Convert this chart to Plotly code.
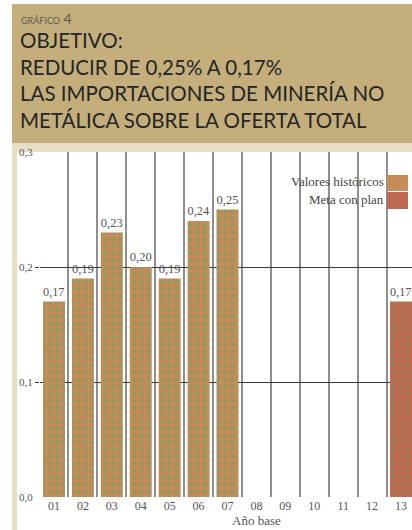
import plotly.graph_objects as go

# ---- data ----
categories = ["01", "02", "03", "04", "05", "06", "07", "08", "09", "10", "11", "12", "13"]
hist_x = ["01", "02", "03", "04", "05", "06", "07"]
hist_y = [0.17, 0.19, 0.23, 0.20, 0.19, 0.24, 0.25]
meta_x = ["13"]
meta_y = [0.17]
grid_ticks = [0.1, 0.2]
edge_ticks = [0.0, 0.3]
series_names = ["Valores históricos", "Meta con plan"]

W, H = 412, 530
L, R, T, B = 40, 0, 152, 33
PW, PH = W - L - R, H - T - B


def px(x):
    return (x - L) / PW


def py(y):
    return (H - B - y) / PH


SERIF = "Liberation Serif"
TXT = "#555555"
HIST_C = "#c58b58"
META_C = "#bf6a4e"
DOT_C = "#8c9a5c"

fig = go.Figure()
fig.add_trace(go.Bar(
    x=hist_x, y=hist_y, name=series_names[0], width=0.76,
    marker=dict(color=HIST_C, line=dict(width=0),
                pattern=dict(shape=".", fgcolor=DOT_C, bgcolor=HIST_C, size=7,
                             solidity=0.3, fillmode="replace")),
    text=hist_y, texttemplate="%{y:.2f}", textposition="outside",
    textfont=dict(family=SERIF, size=13, color=TXT), cliponaxis=False,
    showlegend=False,
))
fig.add_trace(go.Bar(
    x=meta_x, y=meta_y, name=series_names[1], width=0.76,
    marker=dict(color=META_C, line=dict(width=0),
                pattern=dict(shape=".", fgcolor="#a07a58", bgcolor=META_C, size=7,
                             solidity=0.3, fillmode="replace")),
    text=meta_y, texttemplate="%{y:.2f}", textposition="outside",
    textfont=dict(family=SERIF, size=13, color=TXT), cliponaxis=False,
    showlegend=False,
))

shapes = [
    dict(type="rect", xref="paper", yref="paper", x0=px(12), x1=px(412), y0=py(143), y1=py(4),
         fillcolor="#c4af7c", line=dict(width=0), layer="below"),
    dict(type="rect", xref="paper", yref="paper", x0=px(12), x1=px(412), y0=py(152), y1=py(143),
         fillcolor="#e7dec6", line=dict(width=0), layer="below"),
    dict(type="rect", xref="paper", yref="paper", x0=px(12), x1=px(17), y0=py(530), y1=py(143),
         fillcolor="#e7dec6", line=dict(width=0), layer="below"),
    dict(type="rect", xref="paper", yref="paper", x0=px(387), x1=px(408), y0=py(191), y1=py(175),
         fillcolor=HIST_C, line=dict(width=0)),
    dict(type="rect", xref="paper", yref="paper", x0=px(387), x1=px(408), y0=py(209), y1=py(192),
         fillcolor=META_C, line=dict(width=0)),
]

annotations = [
    dict(text="<span style='font-size:9px'>GRÁFICO</span> 4", xref="paper", yref="paper",
         x=px(19), y=py(19), xanchor="left", yanchor="middle", showarrow=False,
         font=dict(family="Lato", size=14, color="#5e5a50")),
    dict(text="OBJETIVO:<br>REDUCIR DE 0,25% A 0,17%<br>LAS IMPORTACIONES DE MINERÍA NO<br>METÁLICA SOBRE LA OFERTA TOTAL",
         xref="paper", yref="paper", x=px(18), y=py(80), xanchor="left", yanchor="middle",
         align="left", showarrow=False, font=dict(family="Lato", size=20.5, color="#252525")),
    dict(text=series_names[0], xref="paper", yref="paper", x=px(386), y=py(181),
         xanchor="right", yanchor="middle", showarrow=False,
         font=dict(family=SERIF, size=13, color="#444444")),
    dict(text=series_names[1], xref="paper", yref="paper", x=px(386), y=py(199),
         xanchor="right", yanchor="middle", showarrow=False,
         font=dict(family=SERIF, size=13, color="#444444")),
    dict(text="Año base", xref="x", yref="paper", x="07", y=py(520),
         xanchor="center", yanchor="middle", showarrow=False,
         font=dict(family=SERIF, size=13, color=TXT)),
]

fig.update_layout(
    width=W, height=H,
    margin=dict(l=L, r=R, t=T, b=B, pad=0, autoexpand=False),
    paper_bgcolor="white", plot_bgcolor="white",
    barmode="overlay",
    separators=",.",
    shapes=shapes,
    annotations=annotations,
    xaxis=dict(
        type="category", categoryorder="array", categoryarray=categories,
        tickmode="array", tickvals=categories, ticktext=categories,
        range=[-0.484, 12.38], tickson="boundaries", automargin=False,
        showgrid=True, gridcolor="#8f8f8f", gridwidth=2,
        ticks="", showline=False, zeroline=False,
        tickfont=dict(family=SERIF, size=12, color=TXT),
    ),
    yaxis=dict(
        range=[0, 0.3], tickmode="array", tickvals=grid_ticks, automargin=False,
        ticktext=[f"{v:.1f}".replace(".", ",") for v in grid_ticks],
        showgrid=True, gridcolor="#3a3a3a", gridwidth=1,
        ticks="outside", ticklen=4, tickcolor="#3a3a3a",
        zeroline=False, showline=False,
        tickfont=dict(family=SERIF, size=11, color=TXT),
    ),
    yaxis2=dict(
        overlaying="y", side="left", range=[0, 0.3], automargin=False,
        tickmode="array", tickvals=edge_ticks,
        ticktext=[f"{v:.1f}".replace(".", ",") for v in edge_ticks],
        showgrid=False, zeroline=False, showline=False, ticks="outside", ticklen=4,
        tickcolor="rgba(0,0,0,0)",
        tickfont=dict(family=SERIF, size=11, color=TXT),
    ),
)
fig.add_trace(go.Scatter(x=["01"], y=[0], yaxis="y2", mode="markers",
                         marker=dict(opacity=0), showlegend=False, hoverinfo="skip"))

fig.write_html("out.html", config={"displayModeBar": False},
               post_script="document.body.style.margin='0';document.body.style.overflow='hidden';")
